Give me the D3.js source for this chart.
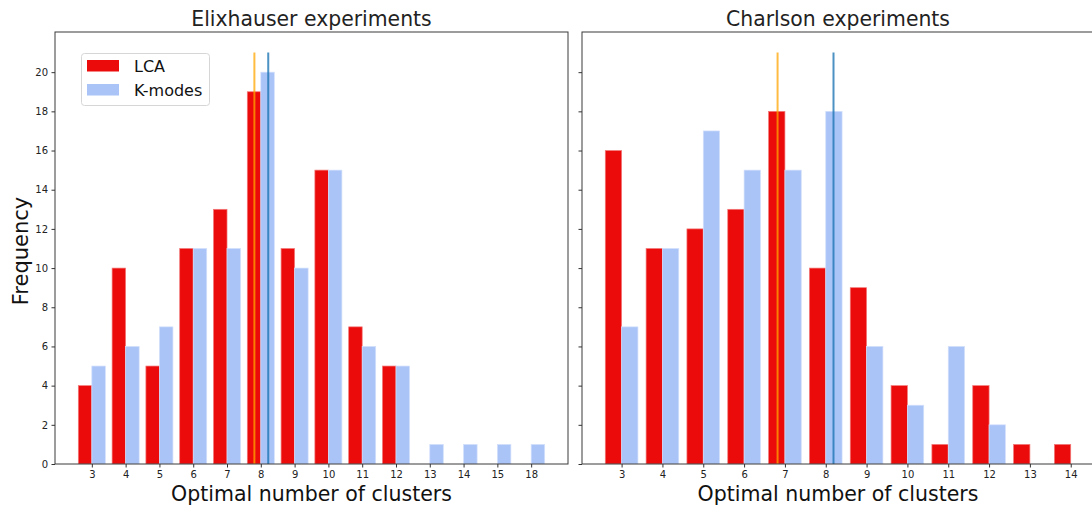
<!DOCTYPE html>
<html>
<head>
<meta charset="utf-8">
<script src="https://cdn.jsdelivr.net/npm/d3@7"></script>
<style>
  html, body { margin: 0; padding: 0; background: #fff; }
  svg { display: block; font-family: "DejaVu Sans", sans-serif; }
</style>
</head>
<body>
<svg id="chart" width="1092" height="509"></svg>
<script>
// Elixhauser experiments: frequency of the optimal number of clusters
const elixCategories = ["3", "4", "5", "6", "7", "8", "9", "10", "11", "12", "13", "14", "15", "18"];
const elixLCA        = [4, 10, 5, 11, 13, 19, 11, 15, 7, 5, 0, 0, 0, 0];
const elixKModes     = [5, 6, 7, 11, 11, 20, 10, 15, 6, 5, 1, 1, 1, 1];
const elixMeanLCA    = 4.81;   // position on the category axis
const elixMeanKModes = 5.22;

// Charlson experiments
const charlCategories = ["3", "4", "5", "6", "7", "8", "9", "10", "11", "12", "13", "14"];
const charlLCA        = [16, 11, 12, 13, 18, 10, 9, 4, 1, 4, 1, 1];
const charlKModes     = [7, 11, 17, 15, 15, 18, 6, 3, 6, 2, 0, 0];
const charlMeanLCA    = 3.82;
const charlMeanKModes = 5.19;

const yTicks = [0, 2, 4, 6, 8, 10, 12, 14, 16, 18, 20];
const seriesNames = ["LCA", "K-modes"];

const svg = d3.select("#chart");
const barW = 0.4;
const lineTop = 21;

const y = d3.scaleLinear().domain([0, 22.05]).range([464, 32]);

const redFill = "#ec0b0b", redEdge = "#f27a7a";
const blueFill = "#aac4f8", blueEdge = "#d3e0fb";

function panel(opts) {
  const { left, right, domain, categories, lca, kmodes, meanLCA, meanKModes, title, showYLabels } = opts;
  const x = d3.scaleLinear().domain(domain).range([left, right]);
  const g = svg.append("g");

  // clip to plotting area
  const clipId = "clip" + left;
  g.append("clipPath").attr("id", clipId)
    .append("rect").attr("x", left).attr("y", y.range()[1])
    .attr("width", right - left).attr("height", y.range()[0] - y.range()[1]);
  const plot = g.append("g").attr("clip-path", `url(#${clipId})`);

  // LCA bars sit left of each tick, K-modes bars right of it
  plot.selectAll("rect.lca")
    .data(lca.map((v, i) => ({ v, i })).filter(d => d.v > 0))
    .join("rect")
    .attr("class", "lca")
    .attr("x", d => x(d.i - barW))
    .attr("width", d => x(d.i) - x(d.i - barW))
    .attr("y", d => y(d.v))
    .attr("height", d => y(0) - y(d.v))
    .attr("fill", redFill)
    .attr("stroke", redEdge).attr("stroke-width", 0.7);

  plot.selectAll("rect.km")
    .data(kmodes.map((v, i) => ({ v, i })).filter(d => d.v > 0))
    .join("rect")
    .attr("class", "km")
    .attr("x", d => x(d.i))
    .attr("width", d => x(d.i + barW) - x(d.i))
    .attr("y", d => y(d.v))
    .attr("height", d => y(0) - y(d.v))
    .attr("fill", blueFill)
    .attr("stroke", blueEdge).attr("stroke-width", 0.7);

  // mean markers
  plot.append("line")
    .attr("x1", x(meanLCA)).attr("x2", x(meanLCA))
    .attr("y1", y(0)).attr("y2", y(lineTop))
    .attr("stroke", "#ffa500").attr("stroke-opacity", 0.75).attr("stroke-width", 2);
  plot.append("line")
    .attr("x1", x(meanKModes)).attr("x2", x(meanKModes))
    .attr("y1", y(0)).attr("y2", y(lineTop))
    .attr("stroke", "#1f77b4").attr("stroke-opacity", 0.8).attr("stroke-width", 2);

  // frame
  g.append("rect")
    .attr("x", left).attr("y", y.range()[1])
    .attr("width", right - left).attr("height", y.range()[0] - y.range()[1])
    .attr("fill", "none").attr("stroke", "#3a3a3a").attr("stroke-width", 1);

  // x axis
  const xAxis = d3.axisBottom(x)
    .tickValues(d3.range(categories.length))
    .tickFormat(i => categories[i])
    .tickSize(3.5).tickPadding(3.5);
  const gx = g.append("g").attr("transform", `translate(0,${y(0)})`).call(xAxis);
  gx.select(".domain").remove();
  gx.selectAll("line").attr("stroke", "#333");
  gx.selectAll("text").attr("font-size", 10).attr("fill", "#222")
    .attr("font-family", "DejaVu Sans, sans-serif");

  // y axis
  const yAxis = d3.axisLeft(y).tickValues(yTicks)
    .tickFormat(showYLabels ? d3.format("d") : () => "")
    .tickSize(3.5).tickPadding(3.5);
  const gy = g.append("g").attr("transform", `translate(${left},0)`).call(yAxis);
  gy.select(".domain").remove();
  gy.selectAll("line").attr("stroke", "#333");
  gy.selectAll("text").attr("font-size", 10).attr("fill", "#222")
    .attr("font-family", "DejaVu Sans, sans-serif");

  // title and axis label
  g.append("text")
    .attr("x", (left + right) / 2).attr("y", 26)
    .attr("text-anchor", "middle").attr("font-size", 20.4).attr("fill", "#222")
    .text(title);
  g.append("text")
    .attr("x", (left + right) / 2).attr("y", 501)
    .attr("text-anchor", "middle").attr("font-size", 20.5).attr("fill", "#111")
    .text("Optimal number of clusters");
  return g;
}

panel({
  left: 55, right: 568, domain: [-1.09, 14.09],
  categories: elixCategories, lca: elixLCA, kmodes: elixKModes,
  meanLCA: elixMeanLCA, meanKModes: elixMeanKModes,
  title: "Elixhauser experiments", showYLabels: true
});

panel({
  left: 582, right: 1094, domain: [-0.97, 11.57],
  categories: charlCategories, lca: charlLCA, kmodes: charlKModes,
  meanLCA: charlMeanLCA, meanKModes: charlMeanKModes,
  title: "Charlson experiments", showYLabels: false
});

// y label
svg.append("text")
  .attr("transform", "translate(28,251) rotate(-90)")
  .attr("text-anchor", "middle").attr("font-size", 21).attr("fill", "#111")
  .text("Frequency");

// legend
const legend = svg.append("g");
legend.append("rect")
  .attr("x", 81.5).attr("y", 53.5).attr("width", 128).attr("height", 52)
  .attr("rx", 3).attr("fill", "#fff").attr("fill-opacity", 0.9)
  .attr("stroke", "#d6d6d6").attr("stroke-width", 1);
const legendColors = [redFill, blueFill];
seriesNames.forEach((name, i) => {
  legend.append("rect")
    .attr("x", 87).attr("y", 60 + i * 24).attr("width", 32).attr("height", 11.5)
    .attr("fill", legendColors[i]);
  legend.append("text")
    .attr("x", 134).attr("y", 72 + i * 24)
    .attr("font-size", 16).attr("fill", "#111")
    .text(name);
});
</script>
</body>
</html>
